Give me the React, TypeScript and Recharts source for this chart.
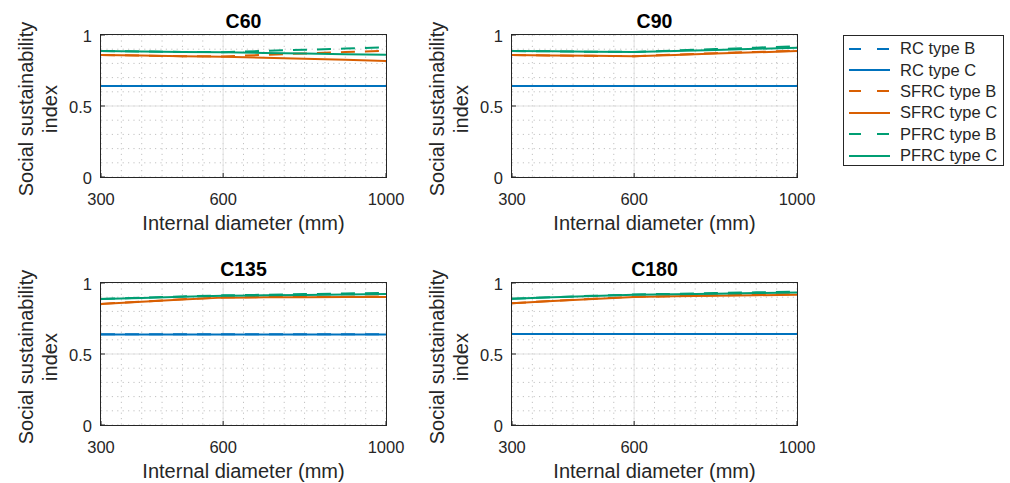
import React from "react";
import { LineChart, Line, XAxis, YAxis, CartesianGrid, ReferenceLine, Legend } from "recharts";

// internal diameter (mm)
const DIAMETERS = [300, 400, 500, 600, 700, 800, 900, 1000];

// C60
const C60_RC_B = [0.641, 0.641, 0.641, 0.641, 0.641, 0.641, 0.641, 0.641];
const C60_RC_C = [0.640, 0.640, 0.640, 0.640, 0.640, 0.640, 0.640, 0.640];
const C60_SFRC_B = [0.859, 0.855, 0.851, 0.849, 0.860, 0.870, 0.880, 0.889];
const C60_SFRC_C = [0.859, 0.855, 0.851, 0.847, 0.840, 0.832, 0.825, 0.817];
const C60_PFRC_B = [0.887, 0.884, 0.881, 0.879, 0.888, 0.896, 0.905, 0.913];
const C60_PFRC_C = [0.887, 0.884, 0.881, 0.878, 0.874, 0.869, 0.865, 0.861];

// C90
const C90_RC_B = [0.641, 0.641, 0.641, 0.641, 0.641, 0.641, 0.641, 0.641];
const C90_RC_C = [0.640, 0.640, 0.640, 0.640, 0.640, 0.640, 0.640, 0.640];
const C90_SFRC_B = [0.859, 0.856, 0.853, 0.851, 0.862, 0.872, 0.881, 0.889];
const C90_SFRC_C = [0.859, 0.856, 0.853, 0.850, 0.860, 0.869, 0.878, 0.887];
const C90_PFRC_B = [0.887, 0.885, 0.882, 0.881, 0.891, 0.901, 0.911, 0.921];
const C90_PFRC_C = [0.887, 0.885, 0.882, 0.880, 0.888, 0.895, 0.903, 0.910];

// C135
const C135_RC_B = [0.639, 0.639, 0.639, 0.639, 0.639, 0.639, 0.639, 0.639];
const C135_RC_C = [0.638, 0.638, 0.638, 0.638, 0.638, 0.638, 0.638, 0.638];
const C135_SFRC_B = [0.853, 0.869, 0.885, 0.899, 0.901, 0.903, 0.904, 0.905];
const C135_SFRC_C = [0.852, 0.868, 0.884, 0.897, 0.899, 0.900, 0.901, 0.902];
const C135_PFRC_B = [0.887, 0.896, 0.905, 0.913, 0.917, 0.922, 0.926, 0.931];
const C135_PFRC_C = [0.887, 0.895, 0.903, 0.910, 0.913, 0.916, 0.919, 0.922];

// C180
const C180_RC_B = [0.641, 0.641, 0.641, 0.641, 0.641, 0.641, 0.641, 0.641];
const C180_RC_C = [0.640, 0.640, 0.640, 0.640, 0.640, 0.640, 0.640, 0.640];
const C180_SFRC_B = [0.858, 0.874, 0.889, 0.903, 0.908, 0.913, 0.918, 0.922];
const C180_SFRC_C = [0.858, 0.873, 0.888, 0.901, 0.906, 0.910, 0.914, 0.918];
const C180_PFRC_B = [0.889, 0.900, 0.910, 0.919, 0.924, 0.929, 0.934, 0.939];
const C180_PFRC_C = [0.889, 0.899, 0.909, 0.917, 0.921, 0.925, 0.929, 0.933];

const X_TICKS = [300, 350, 400, 450, 500, 550, 600, 650, 700, 750, 800, 850, 900, 950, 1000];
const X_LABELS = [300, 600, 1000];
const Y_TICKS = [0, 0.1, 0.2, 0.3, 0.4, 0.5, 0.6, 0.7, 0.8, 0.9, 1];
const Y_LABELS = [0, 0.5, 1];

const SERIES = [
  { key: "rcB", name: "RC type B", color: "#0072BD", dashed: true },
  { key: "rcC", name: "RC type C", color: "#0072BD", dashed: false },
  { key: "sfrcB", name: "SFRC type B", color: "#D95F02", dashed: true },
  { key: "sfrcC", name: "SFRC type C", color: "#D95F02", dashed: false },
  { key: "pfrcB", name: "PFRC type B", color: "#009E73", dashed: true },
  { key: "pfrcC", name: "PFRC type C", color: "#009E73", dashed: false },
];

const FONT = "'Liberation Sans', Arial, Helvetica, sans-serif";
const INK = "#262626";

function buildRows(rcB: number[], rcC: number[], sfrcB: number[], sfrcC: number[], pfrcB: number[], pfrcC: number[]) {
  return DIAMETERS.map((x, i) => ({
    x,
    rcB: rcB[i],
    rcC: rcC[i],
    sfrcB: sfrcB[i],
    sfrcC: sfrcC[i],
    pfrcB: pfrcB[i],
    pfrcC: pfrcC[i],
  }));
}

const PANELS = [
  { title: "C60", col: 0, row: 0, data: buildRows(C60_RC_B, C60_RC_C, C60_SFRC_B, C60_SFRC_C, C60_PFRC_B, C60_PFRC_C) },
  { title: "C90", col: 1, row: 0, data: buildRows(C90_RC_B, C90_RC_C, C90_SFRC_B, C90_SFRC_C, C90_PFRC_B, C90_PFRC_C) },
  { title: "C135", col: 0, row: 1, data: buildRows(C135_RC_B, C135_RC_C, C135_SFRC_B, C135_SFRC_C, C135_PFRC_B, C135_PFRC_C) },
  { title: "C180", col: 1, row: 1, data: buildRows(C180_RC_B, C180_RC_C, C180_SFRC_B, C180_SFRC_C, C180_PFRC_B, C180_PFRC_C) },
];

const PLOT_LEFT = [101, 512];
const PLOT_TOP = [35, 283];
const PLOT_W = 285;
const PLOT_H = 142;
const OFF_L = 101; // plot offset inside each chart
const OFF_T = 35;

function XTick(props: any) {
  const { x, y, payload } = props;
  const v = payload.value;
  if (!X_LABELS.includes(v)) return <g />;
  return (
    <g>
      <line x1={x} x2={x} y1={y} y2={y - 4} stroke={INK} />
      <text x={x} y={y + 21.5} textAnchor="middle" dominantBaseline="central" fontSize={16.5} fill={INK} fontFamily={FONT}>
        {v}
      </text>
    </g>
  );
}

function YTick(props: any) {
  const { x, y, payload } = props;
  const v = payload.value;
  if (!Y_LABELS.includes(v)) return <g />;
  return (
    <g>
      <line x1={x} x2={x + 4} y1={y} y2={y} stroke={INK} />
      <text x={x - 9} y={y + 1} textAnchor="end" dominantBaseline="central" fontSize={16.5} fill={INK} fontFamily={FONT}>
        {v}
      </text>
    </g>
  );
}

function XLabel(props: any) {
  const { x, y, width } = props.viewBox;
  return (
    <text x={x + width / 2} y={y + 45.5} textAnchor="middle" dominantBaseline="central" fontSize={20} fill={INK} fontFamily={FONT}>
      Internal diameter (mm)
    </text>
  );
}

function YLabel(props: any) {
  const { x, y, width, height } = props.viewBox;
  const cx = x + width;
  const cy = y + height / 2 + 3;
  return (
    <g fontSize={20} fill={INK} fontFamily={FONT}>
      <text x={cx - 75} y={cy} textAnchor="middle" dominantBaseline="central" transform={`rotate(-90 ${cx - 75} ${cy})`}>
        Social sustainability
      </text>
      <text x={cx - 51} y={cy} textAnchor="middle" dominantBaseline="central" transform={`rotate(-90 ${cx - 51} ${cy})`}>
        index
      </text>
    </g>
  );
}

function LegendBox(props: any) {
  const items = [...(props.payload || [])].sort(
    (a: any, b: any) => SERIES.findIndex((s) => s.key === a.dataKey) - SERIES.findIndex((s) => s.key === b.dataKey)
  );
  return (
    <div
      style={{
        width: 161,
        height: 131,
        boxSizing: "border-box",
        border: `1px solid ${INK}`,
        background: "#fff",
        paddingTop: 2,
        fontFamily: FONT,
        fontSize: 16.5,
        color: INK,
      }}
    >
      {items.map((it: any) => {
        const s = SERIES.find((d) => d.key === it.dataKey);
        return (
          <div key={it.value} style={{ height: 21.4, display: "flex", alignItems: "center" }}>
            <svg width={41} height={6} style={{ marginLeft: 5, flex: "none" }}>
              <line x1={0} x2={41} y1={3} y2={3} stroke={it.color} strokeWidth={2} strokeDasharray={s && s.dashed ? "12 16" : undefined} />
            </svg>
            <span style={{ marginLeft: 10, whiteSpace: "nowrap" }}>{it.value}</span>
          </div>
        );
      })}
    </div>
  );
}

function Panel({ title, col, row, data }: any) {
  const withLegend = col === 1 && row === 0;
  const width = withLegend ? 599 : 430;
  const height = OFF_T + PLOT_H + 60;
  return (
    <div style={{ position: "absolute", left: PLOT_LEFT[col] - OFF_L, top: PLOT_TOP[row] - OFF_T, width, height }}>
      <div
        style={{
          position: "absolute",
          left: OFF_L,
          width: PLOT_W,
          top: OFF_T - 25,
          lineHeight: "22px",
          textAlign: "center",
          fontFamily: FONT,
          fontWeight: "bold",
          fontSize: 19.5,
          color: "#000",
        }}
      >
        {title}
      </div>
      <LineChart width={width} height={height} data={data} margin={{ top: OFF_T, left: OFF_L - 50, right: width - OFF_L - PLOT_W, bottom: 0 }}>
        <CartesianGrid stroke="#c2c2c2" strokeDasharray="1.2 4.2" />
        <ReferenceLine x={600} stroke="#e1e1e1" strokeWidth={1} />
        <ReferenceLine y={0.5} stroke="#e1e1e1" strokeWidth={1} />
        <XAxis
          dataKey="x"
          type="number"
          domain={[300, 1000]}
          ticks={X_TICKS}
          interval={0}
          tick={<XTick />}
          tickLine={false}
          tickSize={0}
          tickMargin={0}
          axisLine={false}
          height={60}
          label={<XLabel />}
        />
        <YAxis
          type="number"
          domain={[0, 1]}
          ticks={Y_TICKS}
          interval={0}
          tick={<YTick />}
          tickLine={false}
          tickSize={0}
          tickMargin={0}
          axisLine={false}
          width={50}
          label={<YLabel />}
        />
        {SERIES.map((s) => (
          <Line
            key={s.key}
            type="linear"
            dataKey={s.key}
            name={s.name}
            stroke={s.color}
            strokeWidth={2}
            strokeDasharray={s.dashed ? "14 10" : undefined}
            dot={false}
            activeDot={false}
            isAnimationActive={false}
          />
        ))}
        {withLegend && (
          <Legend
            layout="horizontal"
            verticalAlign="middle"
            align="center"
            content={<LegendBox />}
            wrapperStyle={{ left: 843 - 411, top: 35, width: 161, height: 131 }}
          />
        )}
      </LineChart>
      {/* axes box */}
      <div
        style={{
          position: "absolute",
          left: OFF_L - 1,
          top: OFF_T - 1,
          width: PLOT_W + 2,
          height: PLOT_H + 2,
          boxSizing: "border-box",
          border: `1px solid ${INK}`,
          zIndex: 5,
          pointerEvents: "none",
        }}
      />
    </div>
  );
}

export default function App() {
  return (
    <div style={{ position: "absolute", left: 0, top: 0, width: 1010, height: 483, background: "#fff", fontFamily: FONT }}>
      {PANELS.map((p) => (
        <Panel key={p.title} {...p} />
      ))}
    </div>
  );
}
